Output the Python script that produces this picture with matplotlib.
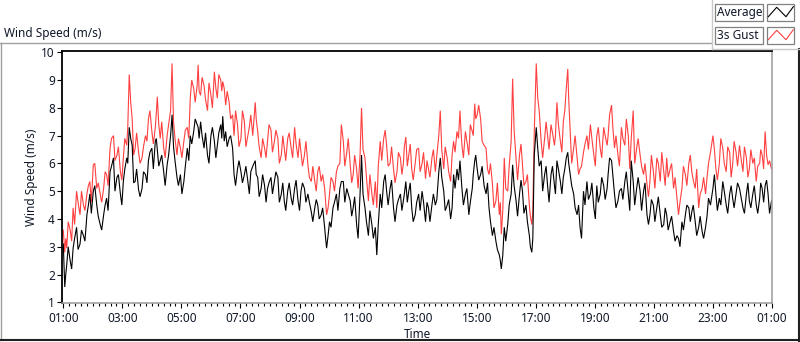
import matplotlib
matplotlib.use("Agg")
import matplotlib.pyplot as plt
from matplotlib.lines import Line2D
from matplotlib.patches import Rectangle
from matplotlib.ticker import MultipleLocator, FixedLocator

# ---------------- data (minutes after 01:00, m/s) ----------------
# main readings
times = [0, 3, 7, 14, 20, 27, 34, 41, 48, 54,
         61, 68, 75, 82, 88, 95, 102, 109, 116, 122,
         129, 134, 140, 146, 153, 160, 167, 173, 180, 187,
         191, 197, 204, 211, 218, 221, 224, 231, 238, 245,
         252, 258, 265, 272, 274, 279,
         286, 293, 300, 307, 313, 320, 324, 330, 337, 344,
         347, 354, 361, 368, 375, 381, 390, 395, 402, 409,
         415, 422, 429, 436, 443, 449, 456, 463, 470, 477,
         483, 490, 497, 504, 511, 517, 524, 531, 535, 541,
         548, 555, 562, 565,
         569, 576, 583, 589, 596, 603, 606, 613, 620, 627,
         634, 637, 644, 651, 657, 664, 671, 678, 685, 691,
         696, 702, 708, 715, 722, 729, 736, 742, 749, 756,
         763, 766, 773, 780, 787, 793, 800, 806, 810, 817,
         824, 831, 836, 841, 848, 855,
         859, 865, 872, 879, 886, 890, 896, 903, 910, 913,
         920, 927, 933, 940, 947, 952, 957, 961, 964, 971,
         978, 984, 991, 998, 1003, 1010, 1016, 1022, 1025, 1030,
         1037, 1044, 1050, 1057, 1064, 1071, 1078, 1084, 1091, 1098,
         1105, 1110, 1114, 1120, 1127, 1134, 1141, 1148,
         1154, 1158, 1165, 1172, 1179, 1186, 1192, 1199, 1206, 1213,
         1220, 1226, 1233, 1240, 1247, 1250, 1257, 1264, 1271, 1277,
         1284, 1291, 1298, 1305, 1311, 1320, 1326, 1333, 1340, 1347,
         1354, 1360, 1367, 1374, 1381, 1388, 1394, 1401, 1408, 1415,
         1420, 1426, 1432, 1439]

gust = [3.6, 2.8, 2.95, 3.6, 4.4, 5.0, 4.15, 4.5, 4.9, 5.35,
        5.95, 5.1, 4.9, 5.1, 5.6, 6.55, 7.0, 6.3, 5.7, 6.2,
        6.65, 9.2, 7.6, 6.55, 6.4, 6.2, 7.0, 7.6, 7.15, 7.3,
        8.4, 6.9, 6.55, 7.0, 7.9, 9.6, 7.5, 6.3, 6.55, 6.8,
        7.3, 8.35, 8.7, 8.8, 9.55, 8.45,
        8.8, 7.9, 8.45, 9.3, 8.35, 9.0, 8.95, 8.1, 8.2, 7.75,
        7.0, 7.4, 6.9, 7.5, 7.0, 7.75, 8.2, 7.15, 6.2, 6.55,
        6.8, 7.2, 6.8, 6.9, 6.3, 6.55, 6.9, 6.55, 7.3, 6.2,
        6.4, 6.3, 5.95, 5.35, 5.35, 5.7, 5.35, 5.1, 4.15, 4.9,
        5.35, 5.7, 6.0, 7.4,
        6.8, 6.4, 5.95, 5.6, 5.8, 6.3, 8.0, 6.2, 4.65, 4.9,
        5.35, 4.4, 6.8, 6.9, 6.65, 6.0, 5.8, 5.7, 6.2, 6.0,
        6.95, 6.3, 5.8, 6.0, 6.55, 6.0, 5.45, 5.8, 6.2, 5.7,
        7.0, 7.9, 5.8, 6.2, 5.35, 6.8, 7.15, 7.9, 6.65, 7.15,
        6.3, 7.15, 8.15, 7.75, 7.6, 6.65,
        6.55, 5.6, 5.25, 4.65, 4.15, 3.45, 6.2, 5.0, 6.8, 9.05,
        6.2, 6.3, 5.95, 5.35, 4.5, 3.8, 7.15, 9.6, 8.35, 6.8,
        6.9, 7.0, 7.4, 6.65, 8.2, 6.8, 7.5, 8.7, 9.4, 7.15,
        6.55, 6.2, 5.8, 6.4, 7.0, 7.4, 6.3, 7.0, 6.55, 7.3,
        6.65, 7.75, 8.1, 6.55, 6.3, 7.3, 6.65, 7.0,
        6.9, 7.9, 6.55, 6.3, 5.6, 5.25, 5.35, 5.7, 6.2, 5.35,
        5.7, 6.2, 5.8, 5.1, 4.75, 4.15, 5.1, 5.6, 6.0, 5.7,
        5.1, 4.4, 5.1, 4.9, 6.0, 7.0, 5.8, 6.0, 6.55, 5.7,
        6.4, 5.95, 6.4, 6.65, 5.7, 6.2, 5.8, 6.0, 5.35, 6.0,
        6.3, 7.15, 5.95, 5.8]

average = [3.1, 1.55, 2.35, 2.5, 2.95, 3.7, 3.1, 3.4, 4.15, 4.9,
           5.0, 4.5, 3.8, 4.15, 4.75, 5.7, 6.2, 5.5, 4.9, 5.35,
           6.2, 7.3, 6.65, 5.35, 5.05, 5.1, 5.6, 6.1, 6.55, 6.8,
           6.5, 6.1, 5.7, 5.95, 7.0, 7.75, 6.6, 5.5, 5.6, 5.35,
           6.55, 7.0, 7.15, 7.4, 7.3, 7.5,
           6.55, 6.3, 7.0, 6.8, 6.65, 7.4, 7.7, 7.15, 6.9, 6.55,
           5.6, 5.8, 5.7, 5.6, 5.35, 5.7, 6.1, 5.5, 5.1, 5.2,
           5.1, 5.5, 5.35, 5.5, 4.9, 4.65, 5.0, 4.75, 5.1, 4.65,
           5.0, 5.1, 4.9, 4.25, 4.4, 4.5, 4.15, 3.7, 2.95, 3.9,
           4.4, 4.9, 5.1, 5.35,
           5.35, 5.1, 4.65, 4.4, 3.8, 4.9, 6.3, 4.4, 3.4, 3.8,
           3.7, 2.7, 4.9, 5.35, 5.0, 5.1, 4.4, 4.5, 4.9, 4.65,
           5.35, 5.0, 4.4, 4.15, 4.9, 5.0, 3.9, 4.4, 4.5, 4.5,
           5.7, 6.2, 5.0, 4.5, 4.0, 5.6, 5.8, 6.1, 5.1, 4.9,
           4.15, 5.1, 6.1, 5.8, 5.6, 5.2,
           4.9, 4.4, 3.4, 3.2, 2.7, 2.2, 3.7, 3.8, 4.9, 5.95,
           4.65, 4.9, 5.0, 4.5, 3.4, 2.8, 6.3, 7.3, 6.55, 6.1,
           5.6, 5.2, 5.6, 5.2, 6.1, 5.35, 5.5, 6.2, 6.4, 5.6,
           4.9, 4.15, 3.7, 5.0, 5.35, 4.9, 4.4, 5.2, 4.9, 5.2,
           5.1, 6.2, 6.1, 4.9, 4.65, 5.1, 5.35, 4.9,
           6.1, 5.35, 5.1, 5.0, 5.0, 4.15, 4.15, 4.5, 4.4, 4.15,
           3.8, 4.15, 3.9, 3.55, 3.4, 3.3, 3.9, 4.15, 4.4, 4.25,
           3.9, 3.7, 3.55, 3.7, 4.75, 5.1, 4.9, 4.75, 5.35, 4.5,
           4.9, 4.75, 4.9, 5.1, 4.4, 4.9, 4.65, 4.9, 4.5, 4.75,
           5.1, 5.2, 4.9, 4.65]

# in-between readings (short-term fluctuations)
times_mid = [5, 10, 17, 23, 30, 37, 44, 51, 57, 64,
             71, 78, 85, 91, 98, 105, 112, 119, 125, 131,
             137, 143, 149, 156, 163, 170, 176, 183, 189, 194,
             200, 207, 214, 227, 234, 241, 248, 255, 261, 268,
             276,
             282, 289, 296, 303, 310, 316, 322, 327, 333, 340,
             350, 357, 364, 371, 378, 385, 392, 398, 405, 412,
             418, 425, 432, 439, 446, 452, 459, 466, 473, 480,
             486, 493, 500, 507, 514, 520, 527, 533, 538, 544,
             551, 558,
             572, 579, 586, 592, 599, 609, 616, 623, 630, 640,
             647, 654, 660, 667, 674, 681, 688, 693, 699, 705,
             711, 718, 725, 732, 739, 745, 752, 759, 769, 776,
             783, 790, 796, 803, 808, 813, 820, 827, 833, 838,
             844, 851,
             862, 868, 875, 882, 888, 893, 899, 906, 916, 923,
             930, 936, 943, 949, 954, 967, 974, 981, 987, 994,
             1000, 1006, 1013, 1019, 1027, 1033, 1040, 1047, 1053, 1060,
             1067, 1074, 1081, 1087, 1094, 1101, 1107, 1117, 1123, 1130,
             1137, 1144,
             1151, 1161, 1168, 1175, 1182, 1189, 1195, 1202, 1209, 1216,
             1223, 1229, 1236, 1243, 1253, 1260, 1267, 1274, 1280, 1287,
             1294, 1301, 1308, 1315, 1323, 1329, 1336, 1343, 1350, 1357,
             1363, 1370, 1377, 1384, 1391, 1397, 1404, 1411, 1417, 1423,
             1429, 1435]

gust_mid = [3.3, 3.9, 3.2, 3.8, 4.6, 5.0, 4.3, 5.2, 4.6, 6.0,
            5.3, 4.6, 5.7, 5.2, 6.9, 6.1, 6.6, 5.4, 6.9, 7.3,
            8.2, 6.3, 7.1, 6.0, 6.6, 6.8, 7.9, 6.7, 7.8, 7.4,
            7.5, 6.2, 7.4, 6.9, 6.9, 6.2, 7.2, 6.9, 9.0, 8.2,
            8.6,
            9.1, 8.3, 8.9, 8.0, 8.7, 9.2, 8.6, 8.7, 8.6, 7.6,
            7.9, 6.6, 7.9, 6.6, 7.3, 7.0, 7.6, 6.6, 6.9, 6.2,
            7.4, 6.4, 7.2, 6.0, 7.0, 6.1, 7.1, 6.2, 6.7, 6.9,
            5.9, 6.8, 5.5, 5.9, 5.0, 5.9, 5.6, 4.6, 4.4, 5.5,
            5.0, 5.9,
            5.9, 6.9, 5.3, 6.3, 5.1, 6.5, 5.5, 5.6, 4.5, 5.9,
            6.1, 7.2, 5.9, 6.6, 5.3, 6.4, 5.6, 6.6, 5.9, 6.7,
            5.4, 6.5, 5.7, 6.4, 6.1, 5.5, 6.5, 6.3, 6.5, 6.6,
            5.7, 6.3, 6.4, 6.9, 7.2, 6.2, 6.8, 7.4, 7.0, 7.6,
            8.1, 6.8,
            5.8, 6.0, 4.4, 5.3, 4.6, 4.3, 5.1, 5.9, 7.2, 5.4,
            6.7, 5.2, 5.6, 4.1, 4.3, 7.9, 6.2, 7.5, 6.5, 7.1,
            7.0, 7.4, 6.4, 7.9, 8.3, 6.0, 7.0, 5.6, 5.9, 6.7,
            6.5, 6.9, 5.9, 7.3, 6.2, 7.0, 7.0, 7.2, 7.0, 5.9,
            6.9, 7.6,
            5.8, 6.0, 6.9, 5.9, 6.0, 4.8, 6.3, 5.1, 6.0, 6.4,
            5.2, 5.5, 6.0, 5.5, 4.6, 5.9, 5.2, 6.3, 5.4, 5.8,
            4.9, 5.5, 5.5, 6.4, 6.5, 5.4, 6.9, 6.0, 6.6, 5.5,
            6.8, 5.9, 6.2, 6.6, 5.5, 6.5, 6.2, 5.9, 6.5, 5.8,
            6.3, 6.1]

average_mid = [2.0, 3.0, 2.2, 3.3, 2.9, 3.6, 3.2, 4.5, 4.2, 5.2,
               4.1, 3.6, 4.5, 4.3, 5.9, 5.0, 5.6, 4.5, 5.8, 6.0,
               6.9, 5.3, 5.8, 4.8, 5.7, 5.3, 6.4, 5.8, 6.9, 5.9,
               6.3, 5.2, 6.3, 6.1, 5.2, 4.9, 5.9, 6.1, 6.7, 7.6,
               6.9,
               7.0, 7.1, 6.0, 7.3, 6.2, 7.1, 6.9, 6.8, 6.6, 7.0,
               5.2, 6.1, 5.3, 5.9, 4.9, 5.9, 5.6, 4.8, 5.6, 4.6,
               5.3, 4.9, 5.7, 4.6, 5.3, 4.3, 5.3, 4.5, 5.4, 4.3,
               5.3, 4.6, 4.6, 3.9, 4.7, 4.0, 4.4, 3.3, 3.4, 3.7,
               4.6, 4.3,
               4.6, 4.9, 4.1, 4.8, 3.3, 4.9, 3.9, 4.3, 3.3, 3.8,
               4.4, 5.6, 4.5, 5.4, 3.9, 4.7, 4.3, 4.9, 4.6, 5.3,
               3.9, 4.6, 4.3, 4.6, 4.6, 3.9, 4.9, 4.7, 5.5, 4.3,
               4.7, 4.4, 5.1, 5.4, 5.6, 4.5, 5.1, 4.6, 5.6, 6.3,
               5.4, 5.9,
               5.3, 3.9, 3.7, 2.9, 2.5, 2.7, 3.2, 4.5, 5.2, 4.1,
               5.4, 4.2, 3.9, 3.0, 3.3, 5.9, 5.0, 5.9, 4.6, 5.9,
               4.9, 5.8, 4.9, 5.8, 6.0, 5.2, 4.4, 4.5, 3.3, 4.5,
               4.7, 5.3, 4.0, 4.6, 5.5, 4.7, 5.6, 5.5, 4.4, 5.0,
               4.7, 5.7,
               4.3, 4.5, 5.5, 4.3, 5.3, 3.8, 4.7, 3.9, 4.8, 3.7,
               4.4, 3.6, 4.1, 3.2, 3.0, 3.6, 4.5, 3.9, 4.5, 3.4,
               4.1, 3.3, 4.1, 4.5, 5.6, 4.3, 4.5, 5.0, 4.2, 5.2,
               4.4, 5.3, 4.8, 4.2, 5.3, 4.4, 5.2, 4.2, 5.3, 4.6,
               5.4, 4.2]

x_ticks = [0, 120, 240, 360, 480, 600, 720, 840, 960, 1080, 1200, 1320, 1440]
x_labels = ["01:00", "03:00", "05:00", "07:00", "09:00", "11:00", "13:00",
            "15:00", "17:00", "19:00", "21:00", "23:00", "01:00"]
y_ticks = [1, 2, 3, 4, 5, 6, 7, 8, 9, 10]
series_names = ["Average", "3s Gust"]
series_colors = ["#000000", "#ff4040"]

# merge readings in time order
g_pts = sorted(list(zip(times, gust)) + list(zip(times_mid, gust_mid)))
a_pts = sorted(list(zip(times, average)) + list(zip(times_mid, average_mid)))
g_t, g_v = zip(*g_pts)
a_t, a_v = zip(*a_pts)

# ---------------- figure ----------------
plt.rcParams['font.family'] = ['Noto Sans', 'DejaVu Sans']
W, H = 800, 342
fig = plt.figure(figsize=(W / 100, H / 100), dpi=100)
fig.patch.set_facecolor('white')


def fx(x):
    return x / W


def fy(y):
    return 1 - y / H


L, R, T, B = 62.3, 772.0, 51.0, 303.3
ax = fig.add_axes([fx(L), fy(B), (R - L) / W, (B - T) / H])
ax.plot(g_t, g_v, color=series_colors[1], lw=0.8, solid_joinstyle='miter')
ax.plot(a_t, a_v, color=series_colors[0], lw=0.8, solid_joinstyle='miter')
ax.set_xlim(-2, 1440)
ax.set_ylim(0.964, 10.047)

ax.xaxis.set_major_locator(FixedLocator(x_ticks))
ax.set_xticklabels(x_labels)
ax.xaxis.set_minor_locator(MultipleLocator(12))
ax.yaxis.set_major_locator(FixedLocator(y_ticks))
ax.set_yticklabels([str(v) for v in y_ticks])

tick_color = '#101828'
ax.tick_params(axis='x', which='major', direction='out', length=3.8, width=0.8,
               pad=2.6, labelsize=8.5, colors='black', labelcolor=tick_color)
ax.tick_params(axis='x', which='minor', direction='out', length=2.3, width=0.8,
               colors='black')
ax.tick_params(axis='y', which='major', direction='out', length=3.6, width=0.8,
               pad=1.7, labelsize=8.5, colors='black', labelcolor=tick_color)

for side in ['left', 'top']:
    ax.spines[side].set_color('black')
    ax.spines[side].set_linewidth(1.3)
for side in ['right', 'bottom']:
    ax.spines[side].set_color('#9a9a9a')
    ax.spines[side].set_linewidth(1.1)

# axis labels
fig.text(fx(31), fy(177), "Wind Speed (m/s)", rotation=90, ha='center',
         va='center', fontsize=8.5, color=tick_color)
fig.text(fx(418), fy(334), "Time", ha='center', va='center', fontsize=8.5,
         color=tick_color)

# caption / panel title
fig.text(fx(4), fy(33), "Wind Speed (m/s)", ha='left', va='center',
         fontsize=8.5, color=tick_color)


def fline(xs, ys, color, lw):
    fig.add_artist(Line2D([fx(v) for v in xs], [fy(v) for v in ys],
                          transform=fig.transFigure, color=color, lw=lw))


# outer frame
fline([0, 711], [42.5, 42.5], '#a0a0a0', 1.0)
fline([1, 1], [42.5, 340], '#a0a0a0', 1.0)
fline([0, 800], [340.3, 340.3], '#202020', 1.5)
fline([799.3, 799.3], [49, 341], '#202020', 1.5)
fline([711.5, 711.5], [0, 49], '#c8c8c8', 1.0)
fline([711.5, 800], [49, 49], '#c8c8c8', 1.0)

# legend
for i, (name, col) in enumerate(zip(series_names, series_colors)):
    y0 = 4.3 + i * 23.0
    h = 16.7
    fig.add_artist(Rectangle((fx(715), fy(y0 + h)), 48 / W, h / H,
                             transform=fig.transFigure, facecolor='white',
                             edgecolor='#808080', lw=0.9))
    fig.add_artist(Rectangle((fx(766.7), fy(y0 + h)), 27.6 / W, h / H,
                             transform=fig.transFigure, facecolor='white',
                             edgecolor='#808080', lw=0.9))
    fig.text(fx(717), fy(y0 + h / 2 + 0.3), name, ha='left', va='center',
             fontsize=8.5, color=tick_color)
    fline([768.3, 776.7, 786, 793.3],
          [y0 + 12.4, y0 + 3.0, y0 + 12.4, y0 + 2.4], col, 0.8)

fig.savefig("out.png", dpi=100, facecolor='white')
